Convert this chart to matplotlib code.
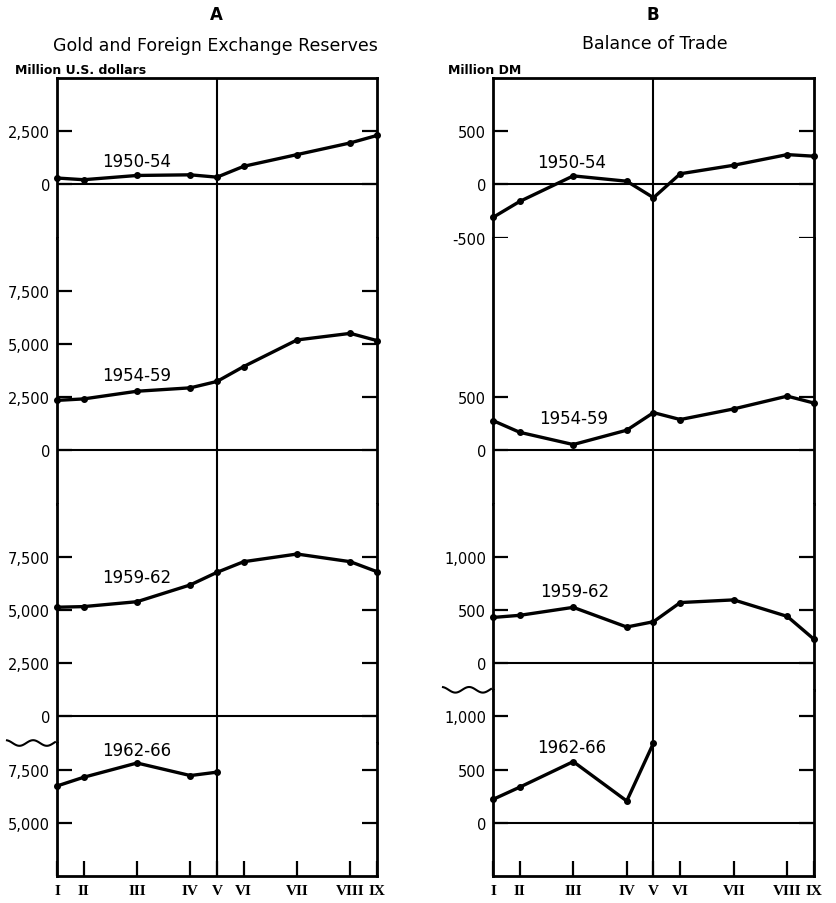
import numpy as np
import matplotlib
matplotlib.use("Agg")
import matplotlib.pyplot as plt

# cycle stages along the x axis (non-uniform spacing as in the original)
stages = ["I", "II", "III", "IV", "V", "VI", "VII", "VIII", "IX"]
stage_pos = [0, 0.5, 1.5, 2.5, 3, 3.5, 4.5, 5.5, 6]

periods = ["1950-54", "1954-59", "1959-62", "1962-66"]

# A: gold and foreign exchange reserves, million U.S. dollars
reserves_1950_54 = [300, 220, 420, 450, 340, 850, 1400, 1950, 2300]
reserves_1954_59 = [2350, 2420, 2780, 2940, 3240, 3940, 5190, 5500, 5160]
reserves_1959_62 = [5130, 5160, 5390, 6180, 6770, 7270, 7630, 7270, 6800]
reserves_1962_66 = [6730, 7140, 7810, 7220, 7380]

# B: balance of trade, million DM
trade_1950_54 = [-310, -160, 80, 30, -125, 100, 180, 280, 265]
trade_1954_59 = [280, 170, 55, 190, 355, 290, 390, 510, 445]
trade_1959_62 = [430, 450, 525, 340, 390, 570, 595, 440, 225]
trade_1962_66 = [220, 335, 575, 205, 750]

# section ranges / ticks / period label positions
res_ylims = [(-2500, 5000), (-2500, 10000), (-1250, 10000), (2500, 8750)]
res_ticks = [[0, 2500], [0, 2500, 5000, 7500], [0, 2500, 5000, 7500], [5000, 7500]]
res_label_y = [1100, 3550, 6550, 8420]

trd_ylims = [(-500, 1000), (-500, 2000), (-250, 1500), (-500, 1250)]
trd_ticks = [[-500, 0, 500], [0, 500], [0, 500, 1000], [0, 500, 1000]]
trd_label_y = [215, 300, 675, 715]

W, H = 837, 904
fig = plt.figure(figsize=(W / 100, H / 100), dpi=100)

TOP, BOT = 79, 877


def fmt(v):
    return "0" if v == 0 else f"{v:,}"


def draw_panel(x0, x1, ylims, ticks, series, label_y, label_x):
    ratios = [hi - lo for lo, hi in ylims]
    gs = fig.add_gridspec(4, 1, left=x0 / W, right=x1 / W,
                          top=1 - TOP / H, bottom=1 - BOT / H,
                          height_ratios=ratios, hspace=0)
    axes = []
    for i in range(4):
        ax = fig.add_subplot(gs[i])
        ax.set_xlim(0, 6)
        ax.set_ylim(*ylims[i])
        for s in ax.spines.values():
            s.set_linewidth(2)
        if i > 0:
            ax.spines["top"].set_visible(False)
        if i < 3:
            ax.spines["bottom"].set_visible(False)
        ax.set_yticks(ticks[i])
        ax.set_yticklabels([fmt(t) for t in ticks[i]])
        ax.tick_params(axis="y", direction="in", length=11, width=1.6,
                       left=True, right=True, labelsize=10.5, pad=5)
        if i == 3:
            ax.set_xticks(stage_pos)
            ax.set_xticklabels(stages, fontfamily="Liberation Serif",
                               fontweight="bold", fontsize=11)
            ax.tick_params(axis="x", direction="in", length=11, width=1.6,
                           top=False, pad=6)
        else:
            ax.set_xticks([])
        ax.axvline(3, color="black", lw=1.5)
        if ylims[i][0] < 0:
            ax.axhline(0, color="black", lw=1.5)
        y = series[i]
        ax.plot(stage_pos[:len(y)], y, color="black", lw=2.4,
                marker="o", ms=4, solid_joinstyle="round", clip_on=False,
                zorder=3)
        ax.text(label_x[i], label_y[i], periods[i], ha="center", va="center",
                fontsize=12)
        axes.append(ax)

    # wavy break mark on the left of the lowest section
    ax4 = axes[3]
    pw = (x1 - x0)
    ph = ax4.get_position().height * H
    t = np.linspace(0, 1, 80)
    xs = (-50 + 48 * t) / pw
    ys = 1 + 2.8 * np.sin(2 * np.pi * 1.75 * t + np.pi / 2 + 0.3) / ph
    ax4.plot(xs, ys, color="black", lw=1.5, transform=ax4.transAxes,
             clip_on=False)
    return axes


draw_panel(57, 377, res_ylims, res_ticks,
           [reserves_1950_54, reserves_1954_59, reserves_1959_62, reserves_1962_66],
           res_label_y, [1.5, 1.5, 1.5, 1.5])
draw_panel(493, 814, trd_ylims, trd_ticks,
           [trade_1950_54, trade_1954_59, trade_1959_62, trade_1962_66],
           trd_label_y, [1.47, 1.5, 1.52, 1.48])

fig.text(216 / W, 1 - 15 / H, "A", ha="center", va="center", fontsize=12,
         fontweight="bold")
fig.text(215 / W, 1 - 46 / H, "Gold and Foreign Exchange Reserves",
         ha="center", va="center", fontsize=12.5)
fig.text(15 / W, 1 - 70 / H, "Million U.S. dollars", ha="left", va="center",
         fontsize=9, fontweight="bold")

fig.text(653 / W, 1 - 15 / H, "B", ha="center", va="center", fontsize=12,
         fontweight="bold")
fig.text(655 / W, 1 - 44 / H, "Balance of Trade", ha="center", va="center",
         fontsize=12.5)
fig.text(448 / W, 1 - 70 / H, "Million DM", ha="left", va="center",
         fontsize=9, fontweight="bold")

fig.savefig("out.png", dpi=100)
